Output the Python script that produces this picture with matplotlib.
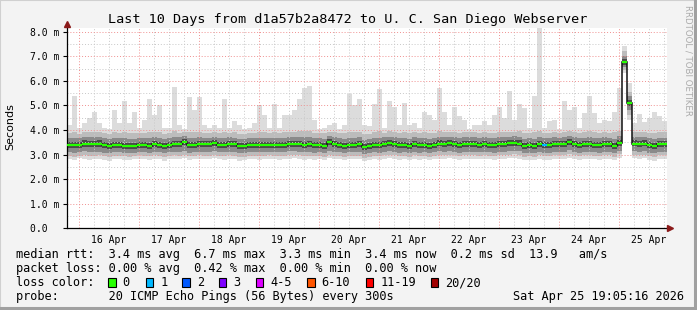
import numpy as np
import matplotlib
matplotlib.use("Agg")
import matplotlib.pyplot as plt
from matplotlib.patches import Rectangle
from matplotlib.lines import Line2D

W, H = 697, 310
MONO = "DejaVu Sans Mono"

TITLE = "Last 10 Days from d1a57b2a8472 to U. C. San Diego Webserver"
BIN_HOURS = 2
SPAN_HOURS = 240
FIRST_MIDNIGHT = 4 + 55 / 60  # 16 Apr 00:00, hours after the start (15 Apr 19:05)
DAY_LABELS = ["16 Apr", "17 Apr", "18 Apr", "19 Apr", "20 Apr",
              "21 Apr", "22 Apr", "23 Apr", "24 Apr", "25 Apr"]
Y_LABELS = ["0.0  ", "1.0 m", "2.0 m", "3.0 m", "4.0 m",
            "5.0 m", "6.0 m", "7.0 m", "8.0 m"]

# median rtt per 2 h bin (ms)
MEDIAN = [
    3.38, 3.38, 3.38, 3.45, 3.42, 3.43, 3.45, 3.38, 3.34, 3.38, 3.38, 3.36,
    3.36, 3.34, 3.40, 3.38, 3.36, 3.43, 3.40, 3.35, 3.40, 3.42, 3.43, 3.50,
    3.38, 3.40, 3.43, 3.42, 3.42, 3.47, 3.40, 3.40, 3.43, 3.42, 3.35, 3.36,
    3.40, 3.40, 3.40, 3.40, 3.40, 3.40, 3.40, 3.40, 3.44, 3.44, 3.44, 3.40,
    3.42, 3.38, 3.40, 3.36, 3.50, 3.42, 3.40, 3.36, 3.40, 3.40, 3.42, 3.32,
    3.35, 3.40, 3.38, 3.43, 3.46, 3.43, 3.38, 3.38, 3.36, 3.42, 3.38, 3.38,
    3.36, 3.40, 3.45, 3.43, 3.46, 3.43, 3.38, 3.42, 3.43, 3.43, 3.40, 3.43,
    3.40, 3.38, 3.43, 3.43, 3.46, 3.48, 3.45, 3.36, 3.38, 3.36, 3.42, 3.38,
    3.38, 3.43, 3.42, 3.43, 3.51, 3.43, 3.38, 3.42, 3.43, 3.40, 3.38, 3.43,
    3.42, 3.36, 3.47, 6.75, 5.09, 3.45, 3.43, 3.45, 3.38, 3.34, 3.42, 3.42,
]

# lost pings (of 20) per bin
LOSS = [
    0, 0, 0, 0, 0, 0, 0, 0, 0, 0, 0, 0,
    0, 0, 0, 0, 0, 0, 0, 0, 0, 0, 0, 0,
    0, 0, 0, 0, 0, 0, 0, 0, 0, 0, 0, 0,
    0, 0, 0, 0, 0, 0, 0, 0, 0, 0, 0, 0,
    0, 0, 0, 0, 0, 0, 0, 0, 0, 0, 0, 0,
    0, 0, 0, 0, 0, 0, 0, 0, 0, 0, 0, 0,
    0, 0, 0, 0, 0, 0, 0, 0, 0, 0, 0, 0,
    0, 0, 0, 0, 0, 0, 0, 0, 0, 0, 0, 1,
    0, 0, 0, 0, 0, 0, 0, 0, 0, 0, 0, 0,
    0, 0, 0, 0, 0, 0, 0, 0, 0, 0, 0, 0,
]

# smoke: slowest / fastest ping per bin
SMOKE_MAX = [
    4.20, 5.40, 4.10, 4.30, 4.50, 4.75, 4.30, 4.10, 4.05, 4.80, 4.30, 5.20,
    4.30, 4.75, 4.10, 4.40, 5.28, 4.60, 5.00, 4.10, 4.10, 5.75, 4.20, 4.05,
    5.34, 4.80, 5.34, 4.20, 4.10, 4.20, 4.10, 5.27, 4.10, 4.35, 4.20, 4.05,
    4.10, 4.30, 5.00, 4.60, 4.10, 5.07, 4.10, 4.60, 4.60, 4.80, 5.27, 5.70,
    5.80, 4.40, 4.05, 4.10, 4.20, 4.30, 4.05, 4.20, 5.47, 5.00, 5.27, 4.20,
    4.15, 5.07, 5.68, 4.10, 5.20, 4.95, 4.20, 5.10, 4.20, 4.30, 4.10, 4.75,
    4.60, 4.40, 5.70, 4.75, 4.20, 4.95, 4.55, 4.40, 4.05, 4.20, 4.20, 4.35,
    4.20, 4.60, 4.95, 4.50, 5.60, 4.40, 5.07, 4.90, 4.10, 5.40, 8.30, 4.10,
    4.35, 4.40, 4.05, 5.20, 4.80, 4.95, 4.10, 4.70, 5.40, 4.70, 4.30, 4.40,
    4.35, 4.75, 5.70, 7.40, 5.90, 4.30, 4.67, 4.33, 4.47, 4.75, 4.55, 4.36,
]
SMOKE_MIN = [
    2.80, 2.78, 2.85, 2.82, 2.76, 2.80, 2.84, 2.78, 2.74, 2.80, 2.82, 2.78,
    2.76, 2.80, 2.84, 2.80, 2.78, 2.82, 2.80, 2.74, 2.80, 2.84, 2.82, 2.86,
    2.78, 2.80, 2.84, 2.82, 2.80, 2.86, 2.80, 2.78, 2.82, 2.80, 2.74, 2.76,
    2.80, 2.82, 2.78, 2.80, 2.84, 2.80, 2.78, 2.82, 2.84, 2.86, 2.82, 2.78,
    2.82, 2.78, 2.80, 2.76, 2.86, 2.82, 2.80, 2.76, 2.80, 2.82, 2.80, 2.72,
    2.76, 2.80, 2.78, 2.84, 2.86, 2.82, 2.78, 2.80, 2.76, 2.82, 2.78, 2.80,
    2.76, 2.80, 2.84, 2.82, 2.86, 2.84, 2.78, 2.82, 2.84, 2.82, 2.80, 2.84,
    2.80, 2.78, 2.82, 2.84, 2.86, 2.88, 2.84, 2.76, 2.78, 2.76, 2.82, 2.78,
    2.78, 2.84, 2.82, 2.84, 2.88, 2.84, 2.78, 2.82, 2.84, 2.80, 2.78, 2.84,
    2.82, 2.76, 2.88, 6.30, 4.40, 2.86, 2.84, 2.86, 2.78, 2.74, 2.82, 2.82,
]
# inner smoke bands (outer -> core)
BAND1_LO = [
    2.94, 2.92, 2.96, 2.98, 2.93, 2.95, 2.97, 2.93, 2.90, 2.94, 2.96, 2.93,
    2.92, 2.94, 2.97, 2.95, 2.93, 2.97, 2.95, 2.90, 2.95, 2.97, 2.96, 3.00,
    2.93, 2.95, 2.98, 2.96, 2.95, 3.00, 2.95, 2.93, 2.97, 2.95, 2.90, 2.92,
    2.95, 2.96, 2.94, 2.95, 2.98, 2.95, 2.94, 2.96, 2.98, 3.00, 2.97, 2.94,
    2.96, 2.93, 2.95, 2.92, 3.00, 2.96, 2.95, 2.92, 2.95, 2.96, 2.95, 2.88,
    2.91, 2.95, 2.93, 2.98, 3.00, 2.97, 2.93, 2.95, 2.92, 2.97, 2.93, 2.95,
    2.92, 2.95, 2.98, 2.97, 3.00, 2.98, 2.93, 2.97, 2.98, 2.97, 2.95, 2.98,
    2.95, 2.93, 2.97, 2.98, 3.00, 3.02, 2.98, 2.92, 2.93, 2.92, 2.97, 2.93,
    2.93, 2.98, 2.97, 2.98, 3.02, 2.98, 2.93, 2.97, 2.98, 2.95, 2.93, 2.98,
    2.97, 2.92, 3.02, 6.45, 4.60, 3.00, 2.98, 3.00, 2.93, 2.90, 2.97, 2.97,
]
BAND1_HI = [
    3.86, 3.90, 3.85, 3.92, 3.90, 3.92, 3.90, 3.86, 3.84, 3.90, 3.87, 3.92,
    3.86, 3.88, 3.86, 3.89, 3.92, 3.90, 3.92, 3.85, 3.86, 3.94, 3.88, 3.92,
    3.90, 3.90, 3.92, 3.88, 3.87, 3.92, 3.86, 3.90, 3.88, 3.90, 3.85, 3.85,
    3.87, 3.88, 3.90, 3.90, 3.86, 3.92, 3.88, 3.90, 3.92, 3.92, 3.94, 3.95,
    3.95, 3.88, 3.86, 3.86, 3.92, 3.90, 3.86, 3.87, 3.92, 3.90, 3.92, 3.84,
    3.85, 3.90, 3.94, 3.88, 3.94, 3.92, 3.87, 3.90, 3.86, 3.90, 3.87, 3.90,
    3.88, 3.88, 3.94, 3.90, 3.92, 3.92, 3.88, 3.92, 3.90, 3.90, 3.86, 3.90,
    3.88, 3.88, 3.92, 3.92, 3.92, 3.90, 3.94, 3.88, 3.86, 3.90, 3.94, 3.86,
    3.88, 3.90, 3.87, 3.92, 3.95, 3.92, 3.87, 3.90, 3.94, 3.90, 3.88, 3.90,
    3.88, 3.90, 3.95, 7.20, 5.55, 3.90, 3.92, 3.92, 3.88, 3.86, 3.90, 3.90,
]
BAND2_LO = [
    3.09, 3.08, 3.10, 3.13, 3.10, 3.11, 3.12, 3.08, 3.05, 3.09, 3.10, 3.08,
    3.07, 3.06, 3.11, 3.09, 3.08, 3.12, 3.10, 3.06, 3.10, 3.12, 3.12, 3.16,
    3.08, 3.10, 3.12, 3.11, 3.11, 3.14, 3.10, 3.09, 3.12, 3.11, 3.05, 3.07,
    3.10, 3.10, 3.10, 3.10, 3.11, 3.10, 3.10, 3.10, 3.13, 3.13, 3.12, 3.10,
    3.11, 3.08, 3.10, 3.07, 3.15, 3.11, 3.10, 3.07, 3.10, 3.10, 3.11, 3.03,
    3.06, 3.10, 3.08, 3.12, 3.14, 3.12, 3.08, 3.09, 3.07, 3.11, 3.08, 3.09,
    3.07, 3.10, 3.13, 3.12, 3.14, 3.12, 3.08, 3.11, 3.12, 3.12, 3.10, 3.12,
    3.10, 3.08, 3.12, 3.12, 3.14, 3.15, 3.13, 3.07, 3.08, 3.07, 3.11, 3.08,
    3.08, 3.12, 3.11, 3.12, 3.17, 3.12, 3.08, 3.11, 3.12, 3.10, 3.08, 3.12,
    3.11, 3.07, 3.15, 6.55, 4.80, 3.13, 3.12, 3.13, 3.08, 3.05, 3.11, 3.11,
]
BAND2_HI = [
    3.66, 3.68, 3.66, 3.72, 3.70, 3.71, 3.72, 3.66, 3.63, 3.67, 3.66, 3.66,
    3.64, 3.64, 3.68, 3.67, 3.66, 3.70, 3.68, 3.63, 3.67, 3.70, 3.70, 3.75,
    3.66, 3.68, 3.70, 3.69, 3.69, 3.73, 3.67, 3.68, 3.70, 3.69, 3.63, 3.64,
    3.68, 3.68, 3.68, 3.68, 3.67, 3.69, 3.68, 3.68, 3.71, 3.72, 3.72, 3.70,
    3.70, 3.66, 3.67, 3.64, 3.74, 3.70, 3.67, 3.64, 3.68, 3.68, 3.70, 3.60,
    3.63, 3.68, 3.67, 3.70, 3.73, 3.71, 3.66, 3.67, 3.64, 3.70, 3.66, 3.67,
    3.64, 3.68, 3.72, 3.70, 3.73, 3.71, 3.66, 3.70, 3.70, 3.70, 3.67, 3.70,
    3.68, 3.66, 3.70, 3.70, 3.73, 3.74, 3.72, 3.65, 3.66, 3.65, 3.70, 3.66,
    3.66, 3.70, 3.69, 3.70, 3.76, 3.70, 3.66, 3.69, 3.70, 3.68, 3.66, 3.70,
    3.69, 3.65, 3.74, 7.00, 5.38, 3.72, 3.70, 3.72, 3.66, 3.62, 3.69, 3.69,
]
BAND3_LO = [
    3.26, 3.26, 3.26, 3.32, 3.30, 3.31, 3.32, 3.26, 3.22, 3.26, 3.26, 3.24,
    3.24, 3.22, 3.28, 3.26, 3.24, 3.31, 3.28, 3.23, 3.28, 3.30, 3.31, 3.37,
    3.26, 3.28, 3.31, 3.30, 3.30, 3.34, 3.28, 3.28, 3.31, 3.30, 3.23, 3.24,
    3.28, 3.28, 3.28, 3.28, 3.28, 3.28, 3.28, 3.28, 3.32, 3.32, 3.32, 3.28,
    3.30, 3.26, 3.28, 3.24, 3.37, 3.30, 3.28, 3.24, 3.28, 3.28, 3.30, 3.20,
    3.23, 3.28, 3.26, 3.31, 3.34, 3.31, 3.26, 3.26, 3.24, 3.30, 3.26, 3.26,
    3.24, 3.28, 3.33, 3.31, 3.34, 3.31, 3.26, 3.30, 3.31, 3.31, 3.28, 3.31,
    3.28, 3.26, 3.31, 3.31, 3.34, 3.36, 3.33, 3.24, 3.26, 3.24, 3.30, 3.26,
    3.26, 3.31, 3.30, 3.31, 3.38, 3.31, 3.26, 3.30, 3.31, 3.28, 3.26, 3.31,
    3.30, 3.24, 3.35, 6.64, 4.96, 3.33, 3.31, 3.33, 3.26, 3.22, 3.30, 3.30,
]
BAND3_HI = [
    3.51, 3.51, 3.51, 3.58, 3.55, 3.56, 3.58, 3.51, 3.47, 3.51, 3.51, 3.49,
    3.49, 3.47, 3.53, 3.51, 3.49, 3.56, 3.53, 3.48, 3.53, 3.55, 3.56, 3.63,
    3.51, 3.53, 3.56, 3.55, 3.55, 3.60, 3.53, 3.53, 3.56, 3.55, 3.48, 3.49,
    3.53, 3.53, 3.53, 3.53, 3.53, 3.53, 3.53, 3.53, 3.57, 3.57, 3.57, 3.53,
    3.55, 3.51, 3.53, 3.49, 3.63, 3.55, 3.53, 3.49, 3.53, 3.53, 3.55, 3.45,
    3.48, 3.53, 3.51, 3.56, 3.59, 3.56, 3.51, 3.51, 3.49, 3.55, 3.51, 3.51,
    3.49, 3.53, 3.58, 3.56, 3.59, 3.56, 3.51, 3.55, 3.56, 3.56, 3.53, 3.56,
    3.53, 3.51, 3.56, 3.56, 3.59, 3.61, 3.58, 3.49, 3.51, 3.49, 3.55, 3.51,
    3.51, 3.56, 3.55, 3.56, 3.64, 3.56, 3.51, 3.55, 3.56, 3.53, 3.51, 3.56,
    3.55, 3.49, 3.60, 6.90, 5.24, 3.58, 3.56, 3.58, 3.51, 3.47, 3.55, 3.55,
]

LOSS_LABELS = ["0", "1", "2", "3", "4-5", "6-10", "11-19", "20/20"]
LOSS_UPPER = [0, 1, 2, 3, 5, 10, 19, 20]
LOSS_COLORS = ["#26ff00", "#00b8ff", "#0059ff", "#7e00ff",
               "#dd00ff", "#ff5500", "#ff0000", "#a10000"]

LEGEND_LINES = [
    "median rtt:  3.4 ms avg  6.7 ms max  3.3 ms min  3.4 ms now  0.2 ms sd  13.9   am/s",
    "packet loss: 0.00 % avg  0.42 % max  0.00 % min  0.00 % now",
    "loss color:",
    "probe:       20 ICMP Echo Pings (56 Bytes) every 300s",
]
TIMESTAMP = "Sat Apr 25 19:05:16 2026"


def fx(px):
    return px / W


def fy(py):
    return 1 - py / H


def loss_color(n):
    for upper, color in zip(LOSS_UPPER, LOSS_COLORS):
        if n <= upper:
            return color
    return LOSS_COLORS[-1]


def main():
    fig = plt.figure(figsize=(W / 100, H / 100), dpi=100, facecolor="#f3f3f3")

    # rrdtool-style frame
    fig.add_artist(Rectangle((0, 0), 1, 1, transform=fig.transFigure, fill=False,
                             edgecolor="#d0d0d0", lw=1.5))
    fig.add_artist(Line2D([fx(1), 1], [fy(H - 2), fy(H - 2)], color="#a0a0a0", lw=2.2))
    fig.add_artist(Line2D([fx(W - 2), fx(W - 2)], [0, 1], color="#a0a0a0", lw=2.2))

    ax = fig.add_axes([fx(66.7), fy(228.3), fx(600), (228.3 - 28) / H])
    ax.set_facecolor("white")
    ax.set_xlim(0, SPAN_HOURS)
    ax.set_ylim(0, 8.15)

    edges = np.arange(len(MEDIAN) + 1) * BIN_HOURS

    bands = [
        (SMOKE_MIN, SMOKE_MAX, "#dcdcdc"),
        (BAND1_LO, BAND1_HI, "#bcbcbc"),
        (BAND2_LO, BAND2_HI, "#8a8a8a"),
        (BAND3_LO, BAND3_HI, "#4a4a4a"),
    ]
    for lo, hi, color in bands:
        ax.stairs(hi, edges, baseline=lo, fill=True, color=color, lw=0, zorder=1)

    # grid (drawn over the smoke, as rrdtool does)
    midnights = FIRST_MIDNIGHT + 24 * np.arange(10)
    quarter = np.arange(FIRST_MIDNIGHT - 18, SPAN_HOURS, 6)
    for xv in quarter:
        if 0 < xv < SPAN_HOURS and not np.any(np.isclose(xv, midnights)):
            ax.axvline(xv, color="#c8c8c8", lw=0.7, ls=(0, (1, 2)), zorder=2)
    for yv in np.arange(0.5, 8.1, 1.0):
        ax.axhline(yv, color="#c8c8c8", lw=0.7, ls=(0, (1, 2)), zorder=2)
    for xv in midnights:
        ax.axvline(xv, color="#f09090", lw=0.7, ls=(0, (1, 2)), zorder=2)
    for yv in range(1, 9):
        ax.axhline(yv, color="#f09090", lw=0.7, ls=(0, (1, 2)), zorder=2)

    # median: dark step line with loss-coloured plateaus
    ax.stairs(MEDIAN, edges, baseline=None, color="#111111", lw=1.1, zorder=3)
    ax.hlines(MEDIAN, edges[:-1], edges[1:], colors=[loss_color(n) for n in LOSS],
              lw=1.6, zorder=4)

    for side in ("top", "right"):
        ax.spines[side].set_visible(False)
    for side in ("left", "bottom"):
        ax.spines[side].set_linewidth(0.9)
    ax.spines["left"].set_bounds(0, 8.3)
    ax.plot([1.005], [0], marker=">", ms=4.5, color="#8b1a1a", transform=ax.transAxes,
            clip_on=False, zorder=6)
    ax.plot([0], [1.02], marker="^", ms=4.5, color="#8b1a1a", transform=ax.transAxes,
            clip_on=False, zorder=6)

    ax.set_yticks(range(9))
    ax.set_yticklabels(Y_LABELS, fontfamily=MONO, fontsize=7)
    ax.tick_params(axis="y", length=3, width=0.8, pad=2)
    ax.set_xticks(midnights + 12)
    ax.set_xticklabels(DAY_LABELS, fontfamily=MONO, fontsize=7)
    ax.tick_params(axis="x", length=0, pad=5)

    fig.text(fx(348), fy(19), TITLE, ha="center", va="center", fontfamily=MONO,
             fontsize=9.7)
    fig.text(fx(10), fy(127), "Seconds", rotation=90, ha="center", va="center",
             fontsize=8)
    fig.text(fx(688), fy(5), "RRDTOOL / TOBI OETIKER", rotation=270, ha="center",
             va="top", fontsize=6.2, color="#aaaaaa")

    row_y = [254.5, 268.5, 282.5, 296.2]
    for text, y in zip(LEGEND_LINES, row_y):
        fig.text(fx(16), fy(y), text, ha="left", va="center", fontfamily=MONO,
                 fontsize=8.55)
    fig.text(fx(513), fy(row_y[3]), TIMESTAMP, ha="left", va="center",
             fontfamily=MONO, fontsize=8.55)

    swatch_x = [108.3, 145.7, 182.3, 219.0, 255.7, 307.3, 365.7, 431.0]
    for sx, label, color in zip(swatch_x, LOSS_LABELS, LOSS_COLORS):
        fig.add_artist(Rectangle((fx(sx), fy(row_y[2] + 4.6)), 7.3 / W, 9.2 / H,
                                 transform=fig.transFigure, facecolor=color,
                                 edgecolor="black", lw=0.8))
        fig.text(fx(sx + 14.4), fy(row_y[2]), label, ha="left", va="center",
                 fontfamily=MONO, fontsize=8.55)

    fig.savefig("out.png", dpi=100, facecolor=fig.get_facecolor())


if __name__ == "__main__":
    main()
